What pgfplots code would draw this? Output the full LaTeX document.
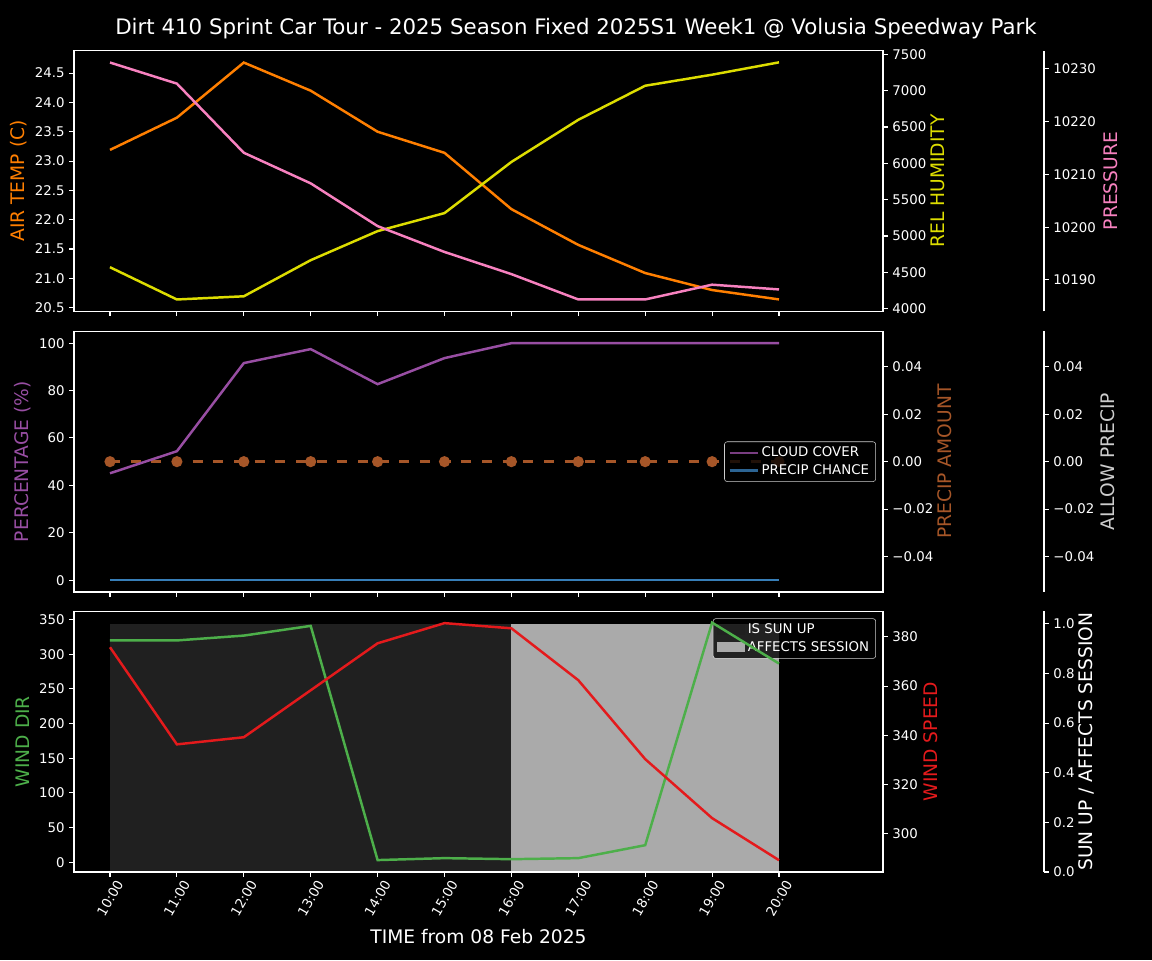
\documentclass[border=0pt]{standalone}
\usepackage{fontspec}
\setmainfont{DejaVu Sans}
\usepackage{pgfplots}
\pgfplotsset{compat=1.18}

\definecolor{ctemp}{HTML}{FF7F00}
\definecolor{chum}{HTML}{DDDD00}
\definecolor{cpres}{HTML}{F781BF}
\definecolor{ccloud}{HTML}{984EA3}
\definecolor{cchance}{HTML}{377EB8}
\definecolor{camt}{HTML}{A65628}
\definecolor{cdir}{HTML}{4DAF4A}
\definecolor{cspeed}{HTML}{E41A1C}
\definecolor{csun}{HTML}{202020}
\definecolor{csess}{HTML}{AAAAAA}
\definecolor{callow}{HTML}{CCCCCC}

\pgfplotsset{
  mpl/.style={
    scale only axis, height=195.5pt,
    axis line style={white, line width=0.8pt},
    tick style={white, line width=0.8pt},
    major tick length=3.5pt,
    tick align=outside,
    scaled y ticks=false,
    tick label style={font=\fontsize{10}{12}\selectfont, text=white},
    /pgf/number format/assume math mode=true,
    /pgf/number format/1000 sep={},
    label style={font=\fontsize{14}{17}\selectfont},
    every axis plot/.append style={line width=1.85pt},
    legend image code/.code={\draw[##1, line width=1.85pt] (0pt,0pt) -- (21pt,0pt);},
    legend image post style={line width=1.85pt},
    legend style={fill=black, fill opacity=0.8, draw=white, draw opacity=0.8,
      text opacity=1, text=white, rounded corners=2pt,
      font=\fontsize{10}{12}\selectfont, cells={anchor=west}},
  },
  main/.style={mpl, width=606.75pt, xmin=-0.5381, xmax=11.5546, xtick={0,...,10}},
  boxed/.style={main, xtick pos=left, ytick pos=left},
  twin/.style={main, axis x line=none, axis y line*=right},
  third/.style={mpl, width=727.5pt, xmin=-0.5381, xmax=13.961,
    axis x line=none, axis y line*=right},
  patchlegend/.style={legend image code/.code={\fill[##1, sharp corners, fill opacity=1] (0pt,-3.5pt) rectangle (21pt,3.5pt);}},
}

\begin{document}
\begin{tikzpicture}
\useasboundingbox (0,0) rectangle (864pt,720pt);
\fill[black] (0,0) rectangle (864pt,720pt);

\node[anchor=base, text=white, font=\fontsize{16}{19}\selectfont] at (432pt,693.75pt)
  {Dirt 410 Sprint Car Tour - 2025 Season Fixed 2025S1 Week1 @ Volusia Speedway Park};

% ---------- panel 1: temp / humidity / pressure
\begin{axis}[boxed, at={(55.5pt,486.5pt)}, anchor=south west,
  xticklabels={},
  ymin=20.437, ymax=24.883, ytick={20.5,21,...,24.5},
  yticklabel style={/pgf/number format/.cd, fixed, fixed zerofill, precision=1},
  ylabel={AIR TEMP (C)},
  ylabel style={at={(axis description cs:-0.068,0.5)}, anchor=center, text=ctemp}]
\addplot[ctemp] coordinates {(0,23.19) (1,23.74) (2,24.68) (3,24.20) (4,23.50) (5,23.14)
  (6,22.18) (7,21.57) (8,21.09) (9,20.80) (10,20.64)};
\end{axis}
\begin{axis}[twin, at={(55.5pt,486.5pt)}, anchor=south west,
  ymin=3963, ymax=7551, ytick={4000,4500,...,7500},
  ylabel={REL HUMIDITY},
  ylabel style={at={(axis description cs:1.068,0.5)}, anchor=center, text=chum}]
\addplot[chum] coordinates {(0,4570) (1,4126) (2,4170) (3,4667) (4,5067) (5,5315)
  (6,6019) (7,6599) (8,7068) (9,7220) (10,7390)};
\end{axis}
\begin{axis}[third, at={(55.5pt,486.5pt)}, anchor=south west,
  ymin=10184.05, ymax=10233.45, ytick={10190,10200,...,10230},
  ylabel={PRESSURE},
  ylabel style={at={(axis description cs:1.069,0.5)}, anchor=center, text=cpres}]
\addplot[cpres] coordinates {(0,10231.2) (1,10227.2) (2,10214.1) (3,10208.3) (4,10200.2)
  (5,10195.3) (6,10191.1) (7,10186.3) (8,10186.3) (9,10189.1) (10,10188.2)};
\end{axis}

% ---------- panel 2: cloud / precip
\begin{axis}[twin, at={(55.5pt,276pt)}, anchor=south west,
  ymin=-0.055, ymax=0.055, ytick={-0.04,-0.02,0,0.02,0.04},
  yticklabels={−0.04,−0.02,0.00,0.02,0.04},
  ylabel={PRECIP AMOUNT},
  ylabel style={at={(axis description cs:1.0767,0.5)}, anchor=center, text=camt}]
\addplot[camt, dash pattern=on 7.5pt off 8pt, mark=*, mark size=3.2pt,
  mark options={solid, fill=camt, draw=camt}]
  coordinates {(0,0) (1,0) (2,0) (3,0) (4,0) (5,0) (6,0) (7,0) (8,0) (9,0) (10,0)};
\end{axis}
\begin{axis}[third, at={(55.5pt,276pt)}, anchor=south west,
  ymin=-0.055, ymax=0.055, ytick={-0.04,-0.02,0,0.02,0.04},
  yticklabels={−0.04,−0.02,0.00,0.02,0.04},
  ylabel={ALLOW PRECIP},
  ylabel style={at={(axis description cs:1.066,0.5)}, anchor=center, text=callow}]
\addplot[draw=none] coordinates {(0,0)};
\end{axis}
\begin{axis}[boxed, at={(55.5pt,276pt)}, anchor=south west,
  xticklabels={},
  ymin=-5, ymax=105, ytick={0,20,...,100},
  ylabel={PERCENTAGE (\%)},
  ylabel style={at={(axis description cs:-0.063,0.5)}, anchor=center, text=ccloud},
  legend style={at={(axis description cs:0.9913,0.5)}, anchor=east}]
\addplot[ccloud] coordinates {(0,45.1) (1,54.4) (2,91.6) (3,97.5) (4,82.7) (5,93.7)
  (6,100) (7,100) (8,100) (9,100) (10,100)};
\addlegendentry{CLOUD COVER}
\addplot[cchance] coordinates {(0,0) (1,0) (2,0) (3,0) (4,0) (5,0) (6,0) (7,0) (8,0) (9,0) (10,0)};
\addlegendentry{PRECIP CHANCE}
\end{axis}

% ---------- panel 3: wind / sun
\begin{axis}[main, hide axis, at={(55.5pt,66pt)}, anchor=south west,
  ymin=0, ymax=1.05, patchlegend,
  legend style={at={(axis description cs:0.9913,0.973)}, anchor=north east}]
\addplot[fill=csun, draw=none] coordinates {(0,1) (6,1)} \closedcycle;
\addlegendentry{IS SUN UP}
\addplot[fill=csess, draw=none] coordinates {(6,1) (10,1)} \closedcycle;
\addlegendentry{AFFECTS SESSION}
\end{axis}
\begin{axis}[boxed, at={(55.5pt,66pt)}, anchor=south west,
  xticklabels={10:00,11:00,12:00,13:00,14:00,15:00,16:00,17:00,18:00,19:00,20:00},
  xticklabel style={yshift=-16pt, rotate=60, anchor=center, inner sep=1pt},
  xlabel={TIME from 08 Feb 2025},
  xlabel style={at={(axis description cs:0.5,-0.246)}, anchor=center, text=white},
  ymin=-14.2, ymax=362, ytick={0,50,...,350},
  ylabel={WIND DIR},
  ylabel style={at={(axis description cs:-0.063,0.5)}, anchor=center, text=cdir}]
\addplot[cdir] coordinates {(0,320) (1,320) (2,327) (3,341) (4,3) (5,5.8)
  (6,4.3) (7,5.8) (8,24.5) (9,345.7) (10,286.6)};
\end{axis}
\begin{axis}[twin, at={(55.5pt,66pt)}, anchor=south west,
  ymin=284.4, ymax=390.4, ytick={300,320,...,380},
  ylabel={WIND SPEED},
  ylabel style={at={(axis description cs:1.059,0.5)}, anchor=center, text=cspeed}]
\addplot[cspeed] coordinates {(0,375.8) (1,336.3) (2,339.2) (3,358.3) (4,377.4) (5,385.6)
  (6,383.5) (7,362.4) (8,330.3) (9,306.3) (10,289.2)};
\end{axis}
\begin{axis}[third, at={(55.5pt,66pt)}, anchor=south west,
  ymin=0, ymax=1.05, ytick={0,0.2,...,1.0},
  yticklabel style={/pgf/number format/.cd, fixed, fixed zerofill, precision=1},
  ylabel={SUN UP / AFFECTS SESSION},
  ylabel style={at={(axis description cs:1.044,0.5)}, anchor=center, text=white}]
\addplot[draw=none] coordinates {(0,0)};
\end{axis}
\end{tikzpicture}
\end{document}
